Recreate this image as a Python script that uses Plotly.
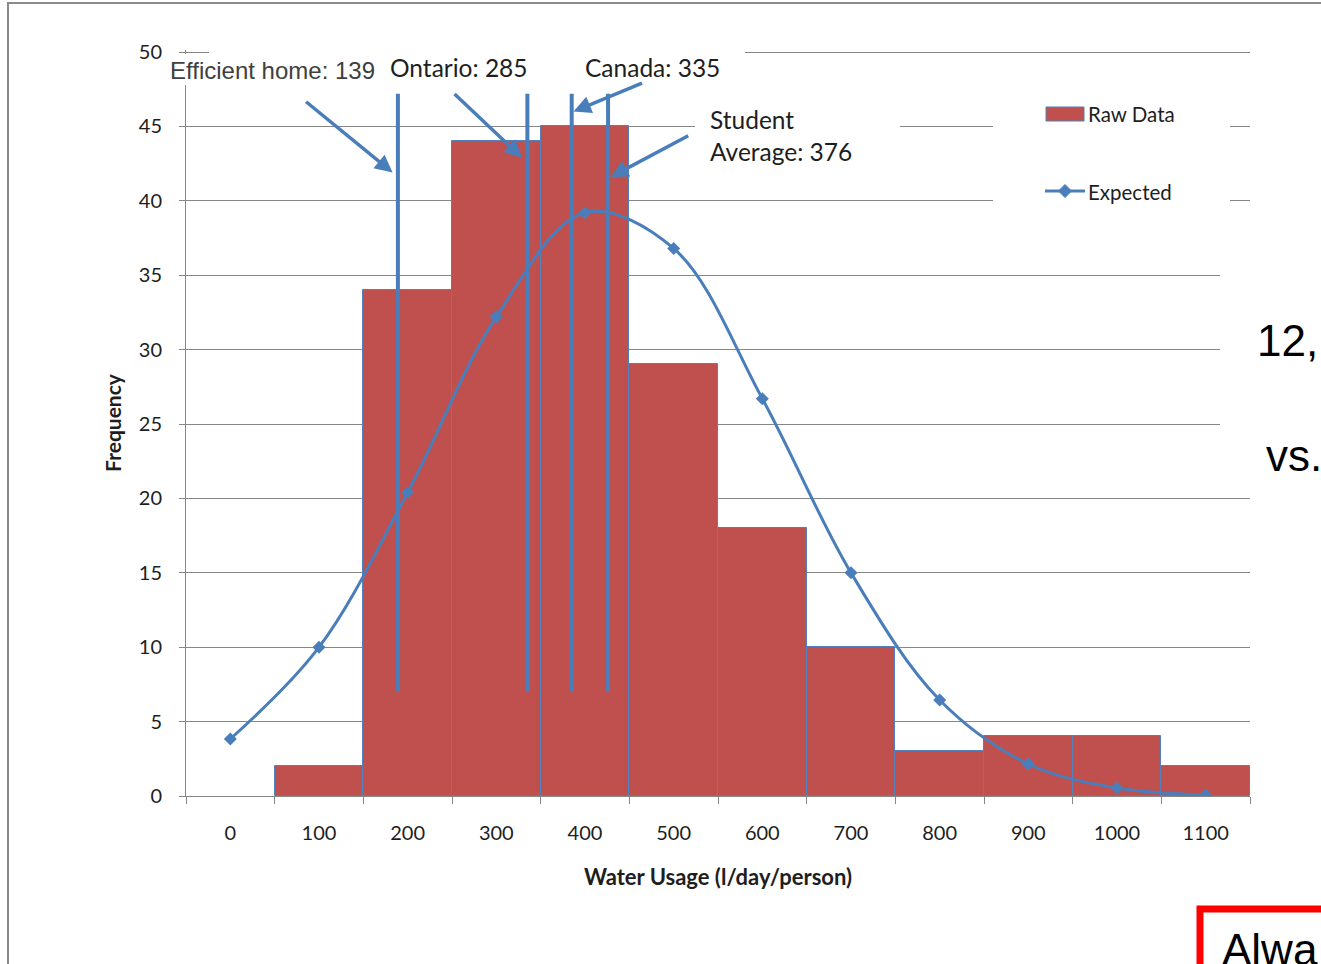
import plotly.graph_objects as go

# Histogram bins (l/day/person) and observed counts
bins = ["0", "100", "200", "300", "400", "500", "600", "700", "800", "900", "1000", "1100"]
raw_data = [0, 2, 34, 44, 45, 29, 18, 10, 3, 4, 4, 2]
# Normal-curve expectation per bin
expected = [3.83, 10.0, 20.4, 32.2, 39.2, 36.8, 26.7, 15.0, 6.45, 2.15, 0.54, 0.07]

# Reference usage values shown as vertical markers
ref_names = ["Efficient home", "Ontario", "Canada", "Student<br>Average"]
ref_values = [139, 285, 335, 376]

W, H = 1321, 964
L, R, T, B = 186, 1250, 50, 796          # plot area in pixels
Y_TOP = 50 * (B - T) / 744               # puts 50 two pixels below the top edge

RED = "#C0504D"
BLUE = "#4A7EBB"
GRID = "#868686"
CAL = "Lato, 'Open Sans', sans-serif"
ARIAL = "'Liberation Sans', Arial, sans-serif"


def px(x):
    return (x - L) / (R - L)


def py(y):
    return (B - y) / (B - T)


xs = list(range(len(bins)))

fig = go.Figure()
fig.add_trace(go.Bar(
    x=xs, y=raw_data, width=1, name="Raw Data",
    marker=dict(color=RED,
                line=dict(color="#4F81BD", width=[1 if v > 0 else 0 for v in raw_data])),
))
fig.add_trace(go.Scatter(
    x=xs, y=expected, name="Expected", mode="lines+markers",
    line=dict(color=BLUE, width=3, shape="spline", smoothing=1),
    marker=dict(symbol="diamond", size=10, color=BLUE),
))

shapes = []
annotations = []

# vertical reference markers, bin i spans value (i-1)*100 .. i*100
ref_x = [v / 100 + 0.5 for v in ref_values]
for xv in ref_x:
    shapes.append(dict(type="line", xref="x", yref="y", x0=xv, x1=xv, y0=7.0, y1=47.2,
                       line=dict(color=BLUE, width=4), layer="above"))

# white text-box backgrounds that interrupt the grid
def white_box(x0, y0, x1, y1):
    shapes.append(dict(type="rect", xref="paper", yref="paper",
                       x0=px(x0), x1=px(x1), y0=py(y1), y1=py(y0),
                       fillcolor="white", line=dict(width=0), layer="above"))

white_box(183, 54, 745, 85)
white_box(209, 47, 745, 57)
white_box(695, 100, 900, 170)
white_box(993, 92, 1230, 215)
white_box(1220, 262, 1253, 480)

# callout labels
label_pos = [(168, 70, ARIAL, 24, "#404040"),
             (388, 67, CAL, 24.5, "#1e1e1e"),
             (583, 67, CAL, 24.5, "#1e1e1e"),
             (708, 136, CAL, 24.5, "#1e1e1e")]
for name, val, (lx, ly, fam, fs, col) in zip(ref_names, ref_values, label_pos):
    annotations.append(dict(text=f"{name}: {val}", xref="paper", yref="paper",
                            x=px(lx), y=py(ly), xanchor="left", yanchor="middle",
                            align="left", showarrow=False,
                            font=dict(family=fam, size=fs, color=col)))

# callout arrows: head offset from marker (data units), tail offset (pixels)
arrow_geo = [(-0.06, 41.9, -88, -72),
             (-0.06, 42.9, -69, -65),
             (0.02, 46.0, 70, -29),
             (0.03, 41.6, 79, -42)]
for xv, (dx, hy, ax, ay) in zip(ref_x, arrow_geo):
    annotations.append(dict(text="", x=xv + dx, y=hy, xref="x", yref="y",
                            ax=ax, ay=ay, showarrow=True, arrowhead=2,
                            arrowsize=1, arrowwidth=3.5, arrowcolor=BLUE, standoff=0))

# legend
shapes.append(dict(type="rect", xref="paper", yref="paper",
                   x0=px(1046), x1=px(1084), y0=py(121), y1=py(107),
                   fillcolor=RED, line=dict(color="#4F81BD", width=1), layer="above"))
shapes.append(dict(type="line", xref="paper", yref="paper",
                   x0=px(1045), x1=px(1085), y0=py(191), y1=py(191),
                   line=dict(color=BLUE, width=3), layer="above"))
cx, cy, r = 1065, 191, 6.5
diamond = (f"M{px(cx - r)},{py(cy)} L{px(cx)},{py(cy - r)} "
           f"L{px(cx + r)},{py(cy)} L{px(cx)},{py(cy + r)} Z")
shapes.append(dict(type="path", xref="paper", yref="paper", path=diamond,
                   fillcolor=BLUE, line=dict(color=BLUE, width=1), layer="above"))
for text, ly in [("Raw Data", 114), ("Expected", 192)]:
    annotations.append(dict(text=text, xref="paper", yref="paper", x=px(1086), y=py(ly),
                            xanchor="left", yanchor="middle", showarrow=False,
                            font=dict(family=CAL, size=20.5, color="#1e1e1e")))

# slide frame and neighbouring slide content
shapes.append(dict(type="line", xref="paper", yref="paper",
                   x0=px(7), x1=px(1330), y0=py(3), y1=py(3),
                   line=dict(color="#8a8a8a", width=2), layer="above"))
shapes.append(dict(type="line", xref="paper", yref="paper",
                   x0=px(8), x1=px(8), y0=py(2), y1=py(970),
                   line=dict(color="#8a8a8a", width=2), layer="above"))
shapes.append(dict(type="rect", xref="paper", yref="paper",
                   x0=px(1200), x1=px(1360), y0=py(1010), y1=py(909),
                   line=dict(color="#FF0000", width=7), fillcolor="rgba(0,0,0,0)",
                   layer="above"))
for text, lx, ly in [("12,", 1255, 340), ("vs.", 1264, 455), ("Alwa", 1220, 949)]:
    annotations.append(dict(text=text, xref="paper", yref="paper", x=px(lx), y=py(ly),
                            xanchor="left", yanchor="middle", showarrow=False,
                            font=dict(family=ARIAL, size=44, color="black")))

fig.update_layout(
    width=W, height=H,
    margin=dict(l=L, r=W - R, t=T, b=H - B, pad=0),
    paper_bgcolor="white", plot_bgcolor="white",
    showlegend=False, bargap=0,
    shapes=shapes, annotations=annotations,
    font=dict(family=CAL, color="#1e1e1e"),
)
fig.update_xaxes(
    range=[-0.5, 11.5], tickmode="array", tickvals=xs, ticktext=bins,
    ticks="", showgrid=False, showline=True, linecolor=GRID, linewidth=1,
    tickfont=dict(family=CAL, size=20, color="#1e1e1e"), ticklabelstandoff=19,
    minor=dict(tickmode="array", tickvals=[i - 0.5 for i in range(len(bins) + 1)],
               ticks="outside", ticklen=7, tickcolor=GRID, tickwidth=1, showgrid=False),
    title=dict(text="<b>Water Usage (l/day/person)</b>", standoff=26,
               font=dict(family=CAL, size=22, color="#1e1e1e")),
    fixedrange=True,
)
fig.update_yaxes(
    range=[0, Y_TOP], dtick=5, tick0=0, showgrid=True, gridcolor=GRID, gridwidth=1,
    showline=True, linecolor=GRID, linewidth=1, zeroline=False,
    ticks="outside", ticklen=6, tickcolor=GRID,
    tickfont=dict(family=CAL, size=20, color="#1e1e1e"), ticklabelstandoff=13,
    title=dict(text="<b>Frequency</b>", standoff=11,
               font=dict(family=CAL, size=21, color="#1e1e1e")),
    fixedrange=True,
)

fig.write_html("out.html")
